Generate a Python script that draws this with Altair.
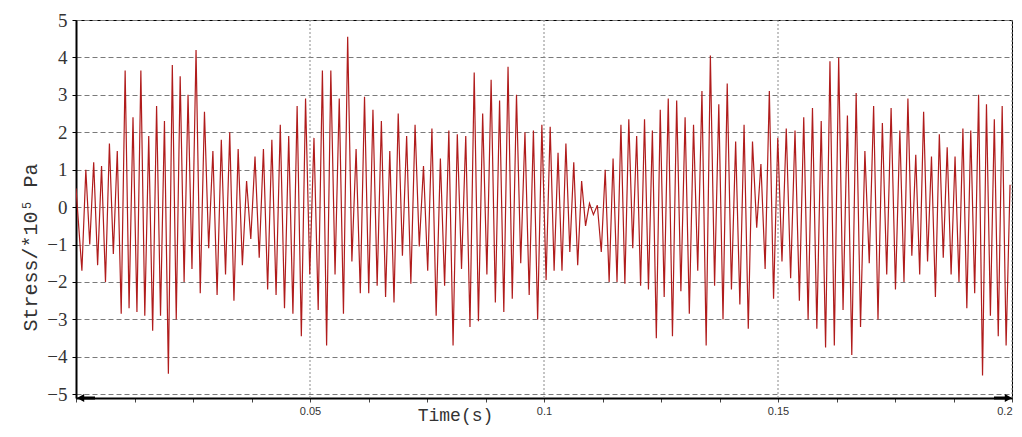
import altair as alt
import pandas as pd

# --- data (stress extremes, *10^5 Pa), per time segment ---
seg_bounds = [0.0, 0.0252, 0.0504, 0.0756, 0.1009, 0.1261, 0.1513, 0.1765, 0.2]

seg1 = [0.5, -1.7, 1.0, -1.0, 1.2, -1.55, 1.1, -2.0, 1.7, -1.25, 1.5, -2.85, 3.65, -2.7, 2.4,
        -2.8, 3.65, -2.9, 1.9, -3.3, 2.7, -2.9, 2.3, -4.45, 3.8, -3.0, 3.5, -2.0, 3.0, -1.65]
seg2 = [4.2, -2.3, 2.55, -1.1, 1.5, -2.35, 1.8, -1.8, 2.0, -2.5, 1.55, -1.55, 0.7, -0.85,
        1.35, -1.35, 1.55, -2.2, 1.8, -2.35, 2.2, -2.7, 1.9, -2.85, 2.7, -3.45, 2.9, -1.8]
seg3 = [1.85, -2.75, 3.65, -3.7, 3.65, -1.8, 2.9, -2.85, 4.55, -1.45, 1.55, -2.3, 2.95, -2.3,
        2.6, -2.1, 2.3, -2.4, 1.5, -2.55, 2.5, -1.3, 1.9, -2.05, 2.2, -1.05, 1.1, -1.7]
seg4 = [2.1, -2.9, 1.3, -2.1, 2.05, -3.7, 1.95, -1.65, 1.9, -3.2, 3.6, -3.05, 2.5, -1.8,
        3.4, -2.55, 2.85, -2.8, 3.75, -2.45, 3.0, -1.5, 2.0, -2.35, 2.05, -3.0, 2.2, -1.95]
seg5 = [2.15, -1.7, 1.45, -1.7, 1.7, -1.2, 1.2, -1.55, 0.7, -0.5, 0.1, -0.2, 0.05, -1.2,
        1.0, -2.0, 1.3, -2.0, 2.2, -2.05, 2.35, -1.1, 1.9, -2.1, 2.35, -2.2, 2.05, -3.5, 2.6, -2.4]
seg6 = [2.9, -3.45, 2.85, -2.25, 2.4, -2.85, 2.2, -1.7, 3.1, -3.7, 4.05, -2.1, 2.75, -3.0,
        3.3, -2.2, 1.75, -2.6, 2.2, -3.25, 1.75, -0.55, 1.15, -1.65, 3.1, -2.45, 1.85, -1.45]
seg7 = [2.1, -1.9, 2.05, -2.5, 2.4, -3.0, 2.65, -3.25, 2.3, -3.75, 3.9, -3.7, 4.0, -2.75,
        2.45, -3.95, 3.05, -3.2, 1.5, -1.5, 2.7, -3.0, 2.25, -1.8, 2.65, -2.2, 2.05]
seg8 = [-2.0, 2.9, -1.3, 1.4, -1.8, 2.55, -1.45, 1.35, -2.4, 1.95, -1.35, 1.6, -1.8, 1.35,
        -2.0, 2.1, -2.7, 2.05, -2.3, 3.0, -4.5, 2.75, -2.9, 2.35, -3.45, 2.7, -3.7, 0.6]

segments = [seg1, seg2, seg3, seg4, seg5, seg6, seg7, seg8]

y_ticks = [-5, -4, -3, -2, -1, 0, 1, 2, 3, 4, 5]
x_ticks = [0.0125 * k for k in range(17)]
x_grid = [0.05, 0.1, 0.15, 0.2]

times, values = [], []
for i, seg in enumerate(segments):
    a, b = seg_bounds[i], seg_bounds[i + 1]
    step = (b - a) / len(seg)
    for k, v in enumerate(seg):
        times.append(a + (k + 0.5) * step)
        values.append(v)
times[0] = 0.0

df = pd.DataFrame({"t": times, "v": values})
grid_df = pd.DataFrame({"t": x_grid})

W, H = 936, 378

xscale = alt.Scale(domain=[0, 0.2], nice=False, zero=False)
yscale = alt.Scale(domain=[-5.1, 5], nice=False, zero=False)

xaxis = alt.Axis(
    values=x_ticks, grid=False, domainColor="black", domainWidth=2,
    tickColor="#444", tickSize=4, labelPadding=3,
    labelExpr="(datum.value > 0 && round(datum.value * 10000) % 500 == 0) ? format(datum.value, '~g') : ''",
    labelFont="Liberation Sans", labelFontSize=11, labelColor="#333",
    labelFlush=True, labelOverlap=False,
    title="Time(s)", titleFont="Liberation Mono", titleFontSize=18,
    titleFontWeight="normal", titleColor="#333",
    titleX=379, titleY=17, titleBaseline="middle", titleAlign="center",
)
yaxis = alt.Axis(
    values=y_ticks, grid=True, gridColor="#7a7a7a", gridDash=[5, 3], gridWidth=1,
    domainColor="black", domainWidth=2, tickColor="black", tickSize=4,
    labelFont="Liberation Serif, Times New Roman, serif", labelFontSize=19, labelColor="#333",
    labelPadding=5, labelFlush=False, labelOverlap=False, format="d",
    title="Stress/*10⁵ Pa", titleFont="Liberation Mono", titleFontSize=20,
    titleFontWeight="normal", titleColor="#333", titleAngle=270,
    titleX=-46, titleY=227, titleBaseline="middle", titleAlign="center",
)

vgrid = alt.Chart(grid_df).mark_rule(color="#8a8a8a", strokeDash=[2, 2], strokeWidth=1).encode(
    x=alt.X("t:Q", scale=xscale, axis=xaxis)
)

line = alt.Chart(df).mark_line(color="#b01c1c", strokeWidth=1.2, clip=True).encode(
    x=alt.X("t:Q", scale=xscale, axis=xaxis),
    y=alt.Y("v:Q", scale=yscale, axis=yaxis),
    order="t:Q",
)

left_arrow = alt.Chart(pd.DataFrame({"a": [0]})).mark_point(
    shape="M -1 0 L -0.2 -0.45 L -0.2 -0.18 L 1 -0.18 L 1 0.18 L -0.2 0.18 L -0.2 0.45 Z",
    filled=True, color="black", opacity=1, size=324,
).encode(x=alt.value(10), y=alt.value(H))

right_arrow = alt.Chart(pd.DataFrame({"a": [0]})).mark_point(
    shape="M 1 0 L 0.2 -0.45 L 0.2 -0.18 L -1 -0.18 L -1 0.18 L 0.2 0.18 L 0.2 0.45 Z",
    filled=True, color="black", opacity=1, size=324,
).encode(x=alt.value(W - 9), y=alt.value(H))

chart = alt.layer(vgrid, line, left_arrow, right_arrow).properties(
    width=W, height=H,
    padding={"left": 68, "top": 12, "right": 2, "bottom": 31},
    autosize=alt.AutoSizeParams(type="none"),
    background="white",
).configure_view(stroke="black", strokeWidth=1)

chart.save("out.html", embed_options={"renderer": "svg", "actions": False})
